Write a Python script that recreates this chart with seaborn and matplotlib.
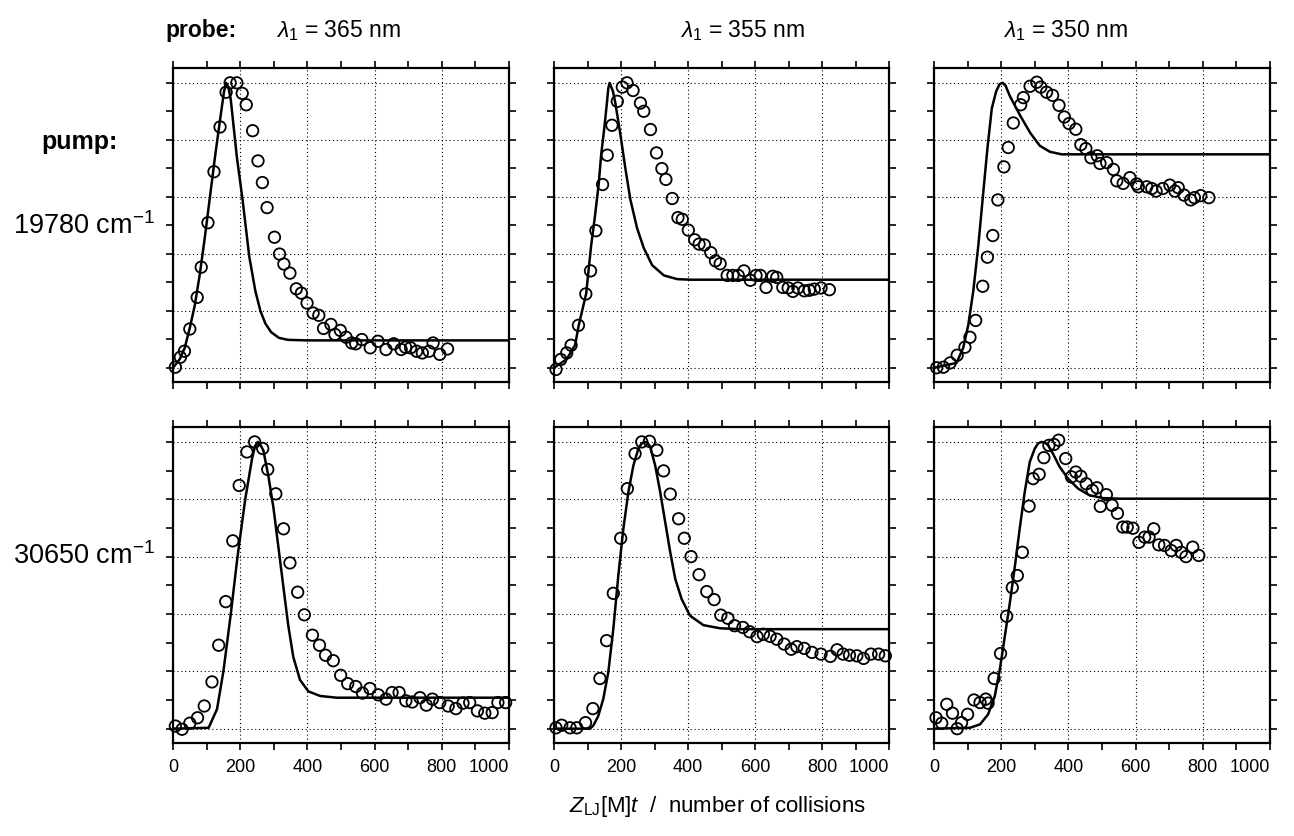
import numpy as np
import pandas as pd
import matplotlib
matplotlib.use("Agg")
import matplotlib.pyplot as plt
from matplotlib.ticker import MultipleLocator
import seaborn as sns

# ---------------- data ----------------
probe_labels = [r"$\lambda_1$ = 365 nm", r"$\lambda_1$ = 355 nm", r"$\lambda_1$ = 350 nm"]
pump_labels = [r"19780 cm$^{-1}$", r"30650 cm$^{-1}$"]
x_ticks = [0, 200, 400, 600, 800, 1000]

# panel (row 0, col 0): pump 19780, probe 365
p00_x = [7, 22, 34, 50, 72, 84, 104, 122, 140, 158, 170, 190, 206, 218, 237, 253, 266, 280, 302, 317,
         330, 348, 367, 382, 399, 417, 434, 448, 470, 482, 498, 515, 532, 544, 562, 587, 610, 634, 657,
         679, 692, 707, 725, 742, 762, 774, 794, 817]
p00_y = [0.002, 0.037, 0.058, 0.136, 0.247, 0.353, 0.509, 0.688, 0.845, 0.967, 1.0, 1.0, 0.963, 0.923,
         0.832, 0.726, 0.650, 0.562, 0.458, 0.399, 0.364, 0.332, 0.277, 0.262, 0.227, 0.192, 0.184, 0.138,
         0.152, 0.117, 0.131, 0.107, 0.087, 0.084, 0.099, 0.070, 0.093, 0.064, 0.084, 0.064, 0.072, 0.070,
         0.058, 0.052, 0.058, 0.087, 0.047, 0.066]
c00_x = [0, 20, 35, 50, 65, 80, 95, 110, 125, 140, 152, 158, 165, 172, 190, 207, 227, 245, 260, 275, 292,
         315, 342, 400, 1000]
c00_y = [0.0, 0.03, 0.07, 0.14, 0.22, 0.33, 0.46, 0.60, 0.74, 0.87, 0.97, 1.0, 0.985, 0.94, 0.74, 0.59,
         0.39, 0.27, 0.20, 0.155, 0.125, 0.105, 0.098, 0.096, 0.096]

# panel (0, 1): pump 19780, probe 355
p01_x = [6, 20, 38, 51, 73, 95, 109, 125, 145, 159, 173, 189, 204, 218, 236, 258, 268, 288, 306, 322,
         334, 353, 370, 383, 401, 420, 433, 449, 468, 482, 496, 517, 534, 550, 567, 586, 603, 616, 633,
         653, 665, 683, 699, 713, 728, 747, 762, 777, 797, 822]
p01_y = [-0.006, 0.029, 0.052, 0.079, 0.149, 0.259, 0.340, 0.481, 0.643, 0.746, 0.851, 0.935, 0.985, 1.0,
         0.973, 0.929, 0.900, 0.836, 0.754, 0.699, 0.661, 0.594, 0.527, 0.521, 0.483, 0.449, 0.434, 0.431,
         0.404, 0.375, 0.365, 0.324, 0.324, 0.324, 0.340, 0.307, 0.324, 0.324, 0.282, 0.321, 0.317, 0.282,
         0.280, 0.268, 0.280, 0.270, 0.272, 0.276, 0.280, 0.274]
c01_x = [0, 38, 63, 74, 88, 96, 103, 111, 121, 133, 141, 151, 158, 162, 166, 171, 176, 183, 198, 213,
         228, 248, 268, 293, 328, 368, 408, 1000]
c01_y = [0.0, 0.03, 0.08, 0.15, 0.22, 0.26, 0.34, 0.43, 0.52, 0.64, 0.75, 0.85, 0.93, 0.98, 1.0, 0.985,
         0.97, 0.93, 0.82, 0.70, 0.59, 0.49, 0.42, 0.36, 0.324, 0.311, 0.309, 0.309]

# panel (0, 2): pump 19780, probe 350
p02_x = [8, 28, 48, 69, 92, 107, 124, 145, 159, 175, 190, 208, 221, 236, 258, 266, 286, 306, 318, 335,
         353, 372, 388, 402, 422, 437, 452, 467, 486, 494, 514, 534, 544, 563, 583, 603, 608, 633, 648,
         661, 681, 702, 717, 727, 744, 764, 775, 794, 818]
p02_y = [0.0, 0.002, 0.017, 0.044, 0.072, 0.107, 0.166, 0.286, 0.388, 0.464, 0.589, 0.705, 0.773, 0.859,
         0.923, 0.948, 0.988, 1.002, 0.985, 0.967, 0.956, 0.921, 0.880, 0.857, 0.837, 0.783, 0.769, 0.737,
         0.744, 0.717, 0.720, 0.696, 0.656, 0.647, 0.667, 0.645, 0.635, 0.635, 0.629, 0.620, 0.629, 0.641,
         0.620, 0.632, 0.606, 0.589, 0.597, 0.604, 0.597]
c02_x = [0, 67, 87, 102, 117, 132, 147, 159, 172, 185, 195, 204, 213, 226, 256, 286, 315, 345, 380, 1000]
c02_y = [0.0, 0.017, 0.07, 0.15, 0.27, 0.43, 0.62, 0.77, 0.91, 0.97, 0.995, 1.0, 0.99, 0.953, 0.886,
         0.825, 0.779, 0.758, 0.749, 0.749]

# panel (1, 0): pump 30650, probe 365
p10_x = [7, 27, 50, 73, 93, 116, 136, 157, 178, 197, 220, 243, 267, 282, 306, 329, 348, 371, 391, 415,
         436, 454, 477, 499, 520, 544, 564, 586, 611, 634, 652, 673, 693, 712, 735, 754, 772, 794, 819,
         842, 863, 883, 906, 928, 950, 967, 990]
p10_y = [0.009, -0.002, 0.019, 0.038, 0.079, 0.163, 0.291, 0.443, 0.655, 0.848, 0.965, 1.0, 0.977, 0.904,
         0.819, 0.697, 0.578, 0.476, 0.397, 0.326, 0.291, 0.256, 0.237, 0.186, 0.157, 0.147, 0.124, 0.140,
         0.118, 0.103, 0.126, 0.126, 0.097, 0.093, 0.108, 0.082, 0.103, 0.091, 0.079, 0.070, 0.089, 0.091,
         0.062, 0.054, 0.056, 0.091, 0.091]
c10_x = [0, 106, 131, 150, 172, 192, 215, 235, 244, 252, 260, 269, 284, 299, 314, 329, 343, 358, 378,
         403, 438, 487, 1000]
c10_y = [0.0, 0.003, 0.068, 0.20, 0.40, 0.60, 0.80, 0.94, 0.985, 1.0, 0.99, 0.97, 0.88, 0.77, 0.63,
         0.49, 0.36, 0.25, 0.17, 0.13, 0.114, 0.108, 0.108]

# panel (1, 1): pump 30650, probe 355
p11_x = [6, 23, 48, 68, 94, 116, 137, 157, 177, 199, 219, 242, 262, 285, 307, 327, 347, 372, 389, 409,
         433, 456, 478, 498, 519, 539, 564, 584, 606, 625, 645, 665, 687, 708, 725, 747, 770, 797, 825,
         845, 863, 882, 904, 924, 946, 969, 989]
p11_y = [0.003, 0.012, 0.003, 0.003, 0.021, 0.070, 0.175, 0.307, 0.472, 0.664, 0.837, 0.959, 1.0, 1.002,
         0.971, 0.899, 0.818, 0.732, 0.664, 0.600, 0.537, 0.478, 0.450, 0.396, 0.385, 0.359, 0.353, 0.338,
         0.321, 0.329, 0.322, 0.312, 0.295, 0.277, 0.286, 0.280, 0.266, 0.260, 0.252, 0.275, 0.260, 0.256,
         0.254, 0.245, 0.260, 0.260, 0.254]
c11_x = [0, 108, 118, 132, 147, 162, 177, 192, 207, 222, 237, 252, 262, 270, 279, 287, 302, 317, 332,
         347, 362, 381, 406, 446, 496, 556, 1000]
c11_y = [0.0, 0.0, 0.012, 0.044, 0.103, 0.196, 0.347, 0.534, 0.697, 0.825, 0.918, 0.977, 0.995, 1.0,
         0.997, 0.983, 0.918, 0.825, 0.720, 0.615, 0.522, 0.452, 0.394, 0.361, 0.350, 0.347, 0.347]

# panel (1, 2): pump 30650, probe 350
p12_x = [6, 23, 38, 55, 69, 82, 100, 119, 137, 154, 161, 179, 198, 216, 233, 248, 263, 283, 295, 313,
         327, 342, 357, 371, 392, 409, 422, 437, 453, 471, 485, 495, 513, 530, 546, 562, 575, 592, 610,
         627, 640, 654, 669, 686, 706, 721, 736, 750, 770, 788]
p12_y = [0.038, 0.019, 0.085, 0.054, 0.0, 0.021, 0.050, 0.100, 0.091, 0.103, 0.089, 0.175, 0.262, 0.392,
         0.492, 0.534, 0.615, 0.776, 0.872, 0.887, 0.945, 0.988, 0.991, 1.006, 0.942, 0.878, 0.895, 0.880,
         0.854, 0.831, 0.840, 0.775, 0.816, 0.779, 0.751, 0.703, 0.703, 0.699, 0.650, 0.668, 0.668, 0.697,
         0.641, 0.639, 0.621, 0.639, 0.615, 0.600, 0.633, 0.604]
c12_x = [0, 107, 137, 161, 181, 196, 211, 226, 241, 255, 270, 285, 300, 310, 320, 330, 340, 354, 374,
         399, 429, 463, 503, 552, 1000]
c12_y = [0.0, 0.003, 0.015, 0.05, 0.114, 0.207, 0.324, 0.441, 0.569, 0.697, 0.825, 0.93, 0.977, 0.995,
         1.0, 0.998, 0.988, 0.959, 0.913, 0.872, 0.837, 0.814, 0.804, 0.802, 0.802]

points = [[(p00_x, p00_y), (p01_x, p01_y), (p02_x, p02_y)],
          [(p10_x, p10_y), (p11_x, p11_y), (p12_x, p12_y)]]
curves = [[(c00_x, c00_y), (c01_x, c01_y), (c02_x, c02_y)],
          [(c10_x, c10_y), (c11_x, c11_y), (c12_x, c12_y)]]

# ---------------- style ----------------
sns.set_style("ticks")
plt.rcParams['font.family'] = ['Liberation Sans', 'DejaVu Sans']
plt.rcParams['mathtext.fontset'] = 'custom'
plt.rcParams['mathtext.rm'] = 'Liberation Sans'
plt.rcParams['mathtext.it'] = 'Liberation Sans:italic'
plt.rcParams['mathtext.bf'] = 'Liberation Sans:bold'
for k in ['text.color', 'axes.labelcolor', 'xtick.color', 'ytick.color', 'axes.edgecolor']:
    plt.rcParams[k] = 'black'

W, H = 1294, 837
fig = plt.figure(figsize=(W / 100, H / 100), dpi=100)

col_px = [(173, 509), (554, 889), (934, 1270)]
row_px = [(69, 383), (428, 744)]

for r, (top, bot) in enumerate(row_px):
    for c, (lft, rgt) in enumerate(col_px):
        ax = fig.add_axes([lft / W, 1 - bot / H, (rgt - lft) / W, (bot - top) / H])
        cx, cy = curves[r][c]
        px, py = points[r][c]
        sns.lineplot(x=cx, y=cy, ax=ax, color='black', linewidth=1.8, sort=False,
                     estimator=None, zorder=2)
        sns.scatterplot(x=px, y=py, ax=ax, s=68, facecolor='none', edgecolor='black',
                        linewidth=1.3, zorder=3, clip_on=False)
        ax.set_xlim(0, 1000)
        ax.set_ylim(-0.05, 1.052)
        ax.xaxis.set_major_locator(MultipleLocator(200))
        ax.xaxis.set_minor_locator(MultipleLocator(100))
        ax.yaxis.set_major_locator(MultipleLocator(0.2))
        ax.yaxis.set_minor_locator(MultipleLocator(0.1))
        ax.set_xticks(x_ticks)
        ax.grid(True, which='major', linestyle=(0, (1, 2.5)), color='black', linewidth=0.8)
        ax.set_axisbelow(True)
        ax.tick_params(which='both', direction='out', length=5, width=1.2,
                       top=True, right=True, bottom=True, left=True,
                       labelleft=False, labelright=False, labeltop=False,
                       labelbottom=(r == 1), labelsize=13, pad=6)
        if r == 1:
            ax.get_xticklabels()[-1].set_horizontalalignment('right')
        for sp in ax.spines.values():
            sp.set_linewidth(1.6)
            sp.set_visible(True)
        ax.set_xlabel('')
        ax.set_ylabel('')

def ftext(x, y, s, **kw):
    fig.text(x / W, 1 - y / H, s, **kw)

ftext(201, 37, "probe:", fontsize=16.5, fontweight='bold', ha='center', va='baseline')
for lab, xc in zip(probe_labels, [338, 742, 1065]):
    ftext(xc, 37, lab, fontsize=16.5, ha='center', va='baseline')

ftext(80, 149, "pump:", fontsize=18, fontweight='bold', ha='center', va='baseline')
ftext(155, 234, pump_labels[0], fontsize=19.5, ha='right', va='baseline')
ftext(155, 564, pump_labels[1], fontsize=19.5, ha='right', va='baseline')

ftext(717, 812, r"$Z_{\mathrm{LJ}}$[M]$t$  /  number of collisions", fontsize=16,
      ha='center', va='baseline')

fig.savefig("out.png", dpi=100)
